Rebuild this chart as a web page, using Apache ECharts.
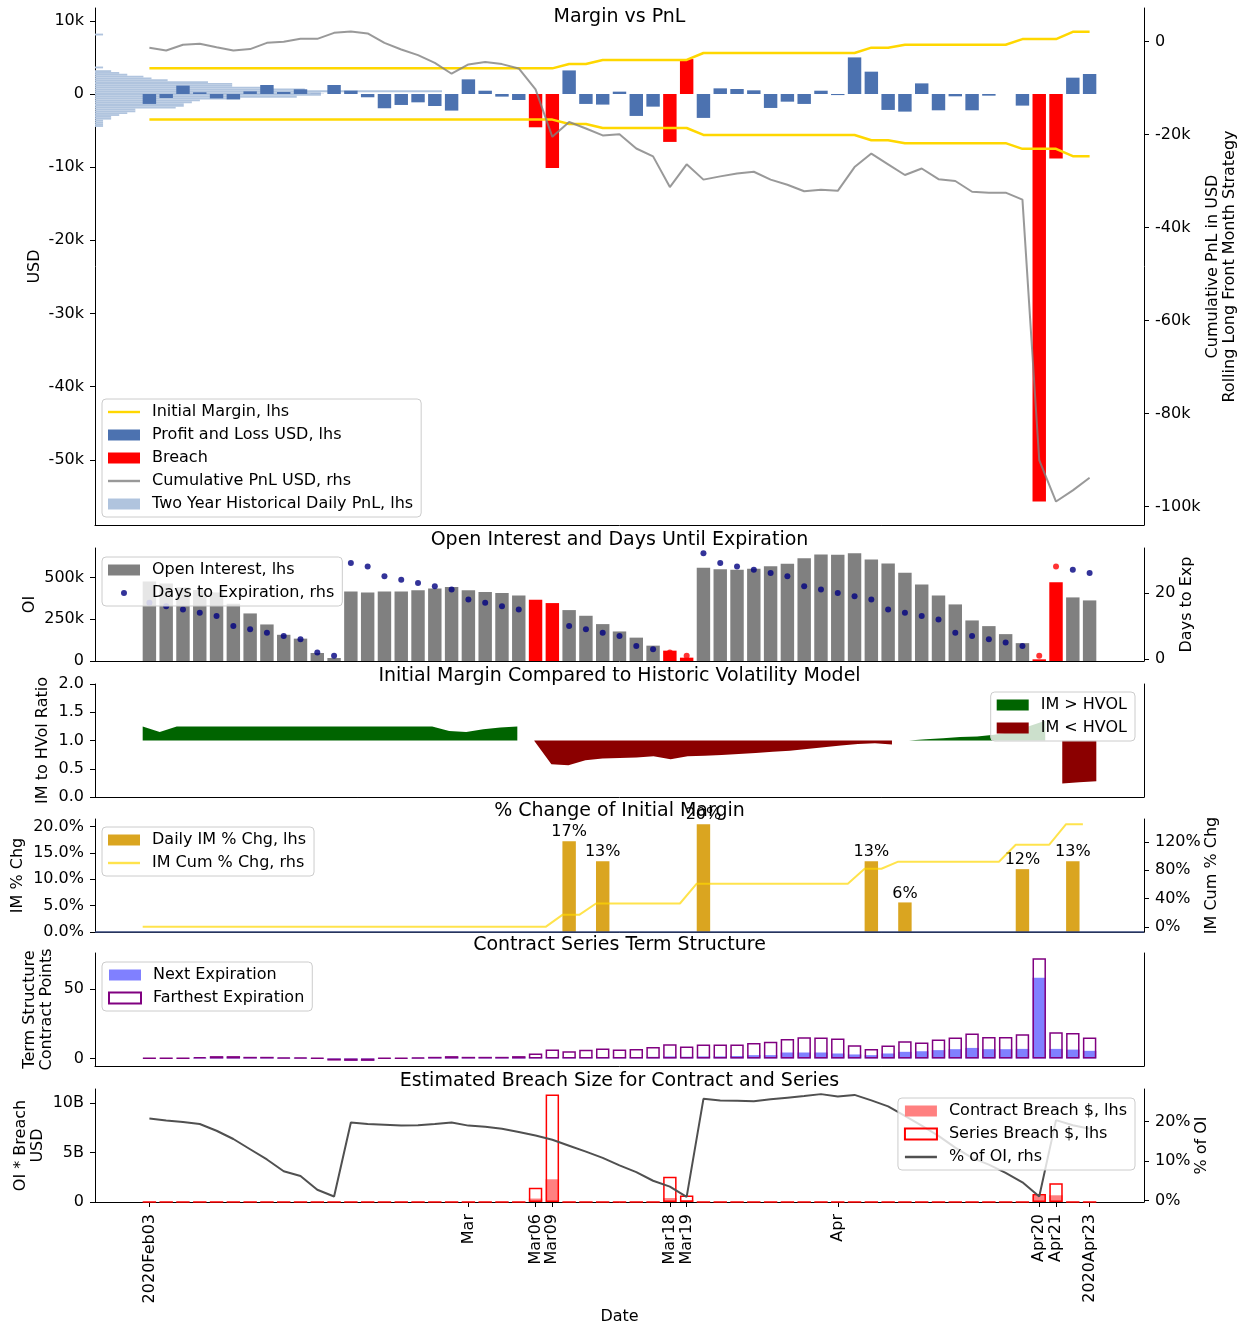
<!DOCTYPE html>
<html>
<head>
<meta charset="utf-8">
<script src="https://cdn.jsdelivr.net/npm/echarts@6/dist/echarts.min.js"></script>
<style>
  html, body { margin: 0; padding: 0; background: #ffffff; }
  #chart { width: 1246px; height: 1324px; }
</style>
</head>
<body>
<div id="chart"></div>
<script>
// Trading days shown on the shared date axis
const days = [
  '2020-02-03','2020-02-04','2020-02-05','2020-02-06','2020-02-07',
  '2020-02-10','2020-02-11','2020-02-12','2020-02-13','2020-02-14',
  '2020-02-18','2020-02-19','2020-02-20','2020-02-21',
  '2020-02-24','2020-02-25','2020-02-26','2020-02-27','2020-02-28',
  '2020-03-02','2020-03-03','2020-03-04','2020-03-05','2020-03-06',
  '2020-03-09','2020-03-10','2020-03-11','2020-03-12','2020-03-13',
  '2020-03-16','2020-03-17','2020-03-18','2020-03-19','2020-03-20',
  '2020-03-23','2020-03-24','2020-03-25','2020-03-26','2020-03-27',
  '2020-03-30','2020-03-31','2020-04-01','2020-04-02','2020-04-03',
  '2020-04-06','2020-04-07','2020-04-08','2020-04-09',
  '2020-04-13','2020-04-14','2020-04-15','2020-04-16','2020-04-17',
  '2020-04-20','2020-04-21','2020-04-22','2020-04-23'
];
const tickIdx = [0, 19, 23, 24, 31, 32, 41, 53, 54, 56];
const tickLabels = ['2020Feb03', 'Mar', 'Mar06', 'Mar09', 'Mar18', 'Mar19', 'Apr', 'Apr20', 'Apr21', '2020Apr23'];
const breachIdx = [23, 24, 31, 32, 53, 54];

// Margin vs PnL (thousands of USD)
const pnl = [
  -1.36, -0.55, 1.14, 0.23, -0.60, -0.73, 0.36, 1.23, 0.27, 0.64,
  0.02, 1.23, 0.45, -0.45, -1.95, -1.50, -1.14, -1.64, -2.27, 2.00,
  0.45, -0.36, -0.82, -4.55, -10.1, 3.22, -1.36, -1.45, 0.32, -3.00,
  -1.73, -6.55, 4.77, -3.27, 0.77, 0.68, 0.50, -1.91, -1.05, -1.36,
  0.45, -0.15, 5.00, 3.05, -2.18, -2.41, 1.45, -2.23, -0.32, -2.23,
  -0.23, 0.00, -1.59, -55.7, -8.82, 2.23, 2.73
];
const initialMargin = [
  3.5, 3.5, 3.5, 3.5, 3.5, 3.5, 3.5, 3.5, 3.5, 3.5,
  3.5, 3.5, 3.5, 3.5, 3.5, 3.5, 3.5, 3.5, 3.5, 3.5,
  3.5, 3.5, 3.5, 3.5, 3.5, 4.1, 4.1, 4.65, 4.65, 4.65,
  4.65, 4.65, 4.65, 5.6, 5.6, 5.6, 5.6, 5.6, 5.6, 5.6,
  5.6, 5.6, 5.6, 6.33, 6.33, 6.72, 6.72, 6.72, 6.72, 6.72,
  6.72, 6.72, 7.5, 7.5, 7.5, 8.5, 8.5
];
const cumPnl = [
  -1.36, -1.93, -0.71, -0.50, -1.22, -1.93, -1.64, -0.29, -0.07, 0.57,
  0.57, 1.86, 2.15, 1.72, -0.29, -1.72, -2.93, -4.58, -6.93, -4.94,
  -4.43, -4.86, -5.79, -10.3, -20.5, -17.3, -18.7, -20.2, -19.96, -23.0,
  -24.7, -31.3, -26.4, -29.7, -29.0, -28.4, -28.0, -29.7, -30.8, -32.2,
  -31.9, -32.1, -27.0, -24.1, -26.4, -28.7, -27.3, -29.6, -30.0, -32.3,
  -32.5, -32.5, -34.0, -90.0, -98.9, -96.5, -93.8
];
// Two year history of daily PnL: bin centres (k USD) and day counts
const histBinWidth = 0.25;
const histBins = [
  8.125, 3.625, 3.125, 2.875, 2.625, 2.375, 2.125, 1.875, 1.625, 1.375,
  1.125, 0.875, 0.625, 0.375, 0.125, -0.125, -0.375, -0.625, -0.875, -1.125,
  -1.375, -1.625, -1.875, -2.125, -2.375, -2.625, -2.875, -3.125, -3.375, -3.625,
  -3.875, -4.125, -4.375
];
const histCounts = [
  1, 1, 2, 3, 4, 6, 7, 9, 14, 17,
  17, 21, 26, 43, 28, 28, 25, 18, 13, 12,
  11, 11, 10, 5, 5, 4, 3, 2, 2, 1,
  1, 1, 1
];

// Open interest (thousands of contracts) and days to expiration
const openInterest = [
  477, 464, 440, 425, 410, 343, 285, 219, 157, 134,
  48, 18, 417, 411, 416, 417, 424, 434, 444, 424,
  414, 408, 393, 367, 347, 305, 271, 221, 177, 140,
  92, 62, 20, 558, 550, 546, 552, 568, 582, 616,
  638, 637, 645, 608, 584, 528, 458, 392, 339, 243,
  209, 161, 107, 10, 472, 381, 363
];
const daysToExp = [
  17, 16, 15, 14, 13, 10, 9, 8, 7, 6,
  2, 1, 29, 28, 25, 24, 23, 22, 21, 18,
  17, 16, 15, 14, 11, 10, 9, 8, 7, 4,
  3, 2, 1, 32, 29, 28, 27, 26, 25, 22,
  21, 20, 19, 18, 15, 14, 13, 12, 8, 7,
  6, 5, 4, 1, 28, 27, 26
];

// Initial margin / historic volatility model ratio, one value per trading day
const hvolRatio = [
  1.25, 1.15, 1.25, 1.25, 1.25, 1.25, 1.25, 1.25, 1.25, 1.25,
  1.25, 1.25, 1.25, 1.25, 1.25, 1.25, 1.25, 1.25, 1.17, 1.15,
  1.20, 1.23, 1.25, 0.99, 0.58, 0.56, 0.65, 0.68, 0.69, 0.70,
  0.72, 0.67, 0.72, 0.73, 0.745, 0.76, 0.78, 0.80, 0.82, 0.85,
  0.88, 0.91, 0.94, 0.95, 0.93, 1.002, 1.02, 1.04, 1.06, 1.07,
  1.10, 1.15, 1.25, 1.35, 0.24, 0.26, 0.28
];

// Initial margin changes (percent)
const imDailyChg = [
  0, 0, 0, 0, 0, 0, 0, 0, 0, 0,
  0, 0, 0, 0, 0, 0, 0, 0, 0, 0,
  0, 0, 0, 0, 0, 17.2, 0, 13.4, 0, 0,
  0, 0, 0, 20.4, 0, 0, 0, 0, 0, 0,
  0, 0, 0, 13.4, 0, 5.6, 0, 0, 0, 0,
  0, 0, 11.9, 0, 0, 13.4, 0
];
const imCumChg = [
  0, 0, 0, 0, 0, 0, 0, 0, 0, 0,
  0, 0, 0, 0, 0, 0, 0, 0, 0, 0,
  0, 0, 0, 0, 0, 17, 17, 33, 33, 33,
  33, 33, 33, 61, 61, 61, 61, 61, 61, 61,
  61, 61, 61, 82, 82, 92, 92, 92, 92, 92,
  92, 92, 116, 116, 116, 145, 145
];

// Contract series term structure (contract points)
const nextExp = [
  0.2, 0.2, 0.2, 0.5, 1.0, 1.0, 0.8, 0.8, 0.5, 0.5,
  0.3, -1.0, -1.5, -1.5, 0.3, 0.3, 0.5, 0.8, 1.0, 0.8,
  0.8, 0.8, 1.0, 1.0, 1.0, 1.0, 1.0, 1.0, 1.0, 1.0,
  1.2, 1.5, 1.3, 1.5, 1.5, 1.8, 2.4, 2.4, 4.3, 4.3,
  4.3, 3.6, 2.9, 2.4, 3.6, 4.8, 5.2, 6.0, 6.7, 7.6,
  6.7, 6.7, 6.9, 58.0, 6.9, 6.4, 5.5
];
const farthestExp = [
  0.3, 0.3, 0.3, 1.0, 1.7, 1.7, 1.2, 1.2, 0.7, 0.7,
  0.5, -1.5, -1.7, -1.7, 0.5, 0.5, 0.7, 1.2, 1.7, 1.2,
  1.2, 1.2, 1.7, 3.6, 6.4, 5.2, 6.2, 7.1, 6.4, 6.9,
  8.3, 10.2, 8.6, 10.0, 10.0, 10.0, 11.2, 12.1, 14.0, 15.2,
  15.0, 14.3, 9.5, 6.9, 9.3, 12.4, 11.4, 13.6, 15.0, 17.9,
  15.5, 15.5, 17.4, 72.1, 18.8, 18.3, 15.0
];

// Estimated breach size (billions of USD) and percent of open interest
const contractBreach = [
  0, 0, 0, 0, 0, 0, 0, 0, 0, 0,
  0, 0, 0, 0, 0, 0, 0, 0, 0, 0,
  0, 0, 0, 0.35, 2.3, 0, 0, 0, 0, 0,
  0, 0.4, 0.2, 0, 0, 0, 0, 0, 0, 0,
  0, 0, 0, 0, 0, 0, 0, 0, 0, 0,
  0, 0, 0, 0.68, 0.68, 0, 0
];
const seriesBreach = [
  0, 0, 0, 0, 0, 0, 0, 0, 0, 0,
  0, 0, 0, 0, 0, 0, 0, 0, 0, 0,
  0, 0, 0, 1.45, 10.9, 0, 0, 0, 0, 0,
  0, 2.55, 0.65, 0, 0, 0, 0, 0, 0, 0,
  0, 0, 0, 0, 0, 0, 0, 0, 0, 0,
  0, 0, 0, 0.8, 1.9, 0, 0
];
const pctOfOI = [
  20.8, 20.3, 19.9, 19.4, 17.7, 15.6, 13.0, 10.4, 7.4, 6.2,
  2.7, 1.0, 19.8, 19.4, 19.2, 19.0, 19.1, 19.4, 19.8, 19.0,
  18.7, 18.2, 17.4, 16.5, 15.4, 13.9, 12.4, 10.8, 8.9, 7.2,
  5.0, 3.5, 0.9, 25.8, 25.4, 25.3, 25.2, 25.7, 26.1, 26.5,
  27.0, 26.4, 26.8, 25.4, 23.9, 21.5, 19.0, 16.4, 13.4, 10.8,
  9.1, 7.0, 4.6, 1.0, 20.4, 19.1, 18.2
];

// ---------------------------------------------------------------------------
const FONT = 'DejaVu Sans';
const X_MIN = -3.24, X_MAX = 59.24;   // bar-padded trading-day index range
const AREA_X_MIN = -2.8, AREA_X_MAX = 58.8; // volatility panel has no bars, so no bar padding
const LINE_SHIFT = 0.4;                // cumulative IM line sits on bar left edges
const GRID_LEFT = 95, GRID_WIDTH = 1049;
const panels = [
  { top: 8, height: 517 },
  { top: 548, height: 113 },
  { top: 684, height: 113 },
  { top: 819, height: 113 },
  { top: 953, height: 113 },
  { top: 1089, height: 113 }
];
const isBreach = i => breachIdx.indexOf(i) >= 0;
const pts = arr => arr.map((v, i) => [i, v]);

const axisLineStyle = { color: '#000000', width: 1 };
const tickFont = { fontFamily: FONT, fontSize: 16, color: '#000000' };
const nameFont = { fontFamily: FONT, fontSize: 16, color: '#000000', lineHeight: 17 };

function xAxisFor(gi, withLabels, opts) {
  const o = opts || {};
  return {
    type: 'value', gridIndex: gi,
    min: o.min != null ? o.min : X_MIN, max: o.max != null ? o.max : X_MAX,
    show: !o.hidden,
    axisLine: { show: true, onZero: false, lineStyle: axisLineStyle },
    axisTick: { show: withLabels, customValues: tickIdx, length: 5, lineStyle: axisLineStyle },
    axisLabel: {
      show: withLabels, customValues: tickIdx, rotate: 90, margin: 12, ...tickFont,
      formatter: v => { const k = tickIdx.indexOf(Math.round(v)); return k >= 0 ? tickLabels[k] : ''; }
    },
    splitLine: { show: false },
    name: withLabels ? 'Date' : '', nameLocation: 'middle', nameGap: 106, nameMoveOverlap: false,
    nameTextStyle: nameFont
  };
}
function yAxisFor(gi, pos, min, max, ticks, fmt, name, gap) {
  const showTicks = ticks && ticks.length > 0;
  return {
    type: 'value', gridIndex: gi, position: pos, min: min, max: max,
    axisLine: { show: true, onZero: false, lineStyle: axisLineStyle },
    axisTick: { show: showTicks, customValues: ticks || [], length: 5, lineStyle: axisLineStyle },
    axisLabel: { show: showTicks, customValues: ticks || [], margin: 11, formatter: fmt, ...tickFont },
    splitLine: { show: false },
    name: name || '', nameLocation: 'middle', nameRotate: 90, nameGap: gap || 0,
    nameMoveOverlap: false,
    nameTextStyle: nameFont
  };
}
function legendBox(extra) {
  return Object.assign({
    orient: 'vertical', itemWidth: 32, itemHeight: 11, itemGap: 5,
    padding: [4, 8, 4, 6],
    backgroundColor: 'rgba(255,255,255,0.8)', borderColor: '#cccccc', borderWidth: 1, borderRadius: 4,
    textStyle: { fontFamily: FONT, fontSize: 16, color: '#000000', lineHeight: 18, padding: [0, 0, 0, 7] },
    selectedMode: false, z: 20
  }, extra);
}
const LINE_ICON = 'path://M0,0H32V2.4H0Z';
const DOT_ICON = 'path://M0,0L0.01,0M32,11L32.01,11M13,5.5A3,3 0 1,0 19,5.5A3,3 0 1,0 13,5.5Z';

const kFmt = v => (v === 0 ? '0' : v + 'k');

const option = {
  animation: false,
  backgroundColor: '#ffffff',
  textStyle: { fontFamily: FONT },
  title: [
    'Margin vs PnL',
    'Open Interest and Days Until Expiration',
    'Initial Margin Compared to Historic Volatility Model',
    '% Change of Initial Margin',
    'Contract Series Term Structure',
    'Estimated Breach Size for Contract and Series'
  ].map((t, k) => ({
    text: t, left: GRID_LEFT + GRID_WIDTH / 2, textAlign: 'center',
    top: [8, 531, 667, 802, 936, 1072][k], padding: 0,
    textStyle: { fontFamily: FONT, fontSize: 19, fontWeight: 'normal', color: '#000000' }
  })),
  grid: panels.map(p => ({
    left: GRID_LEFT, width: GRID_WIDTH, top: p.top, height: p.height,
    containLabel: false, outerBoundsMode: 'none'
  })),
  xAxis: [
    xAxisFor(0, false), xAxisFor(1, false),
    xAxisFor(2, false, { min: AREA_X_MIN, max: AREA_X_MAX }),
    xAxisFor(3, false), xAxisFor(4, false), xAxisFor(5, true),
    // 6: day counts for the historical PnL histogram
    { type: 'value', gridIndex: 0, min: 0, max: 130, show: false },
    // 7: cumulative IM change line, drawn on bar left edges
    xAxisFor(3, false, { min: X_MIN + LINE_SHIFT, max: X_MAX + LINE_SHIFT, hidden: true })
  ],
  yAxis: [
    yAxisFor(0, 'left', -58.9, 11.75, [-50, -40, -30, -20, -10, 0, 10], kFmt, 'USD', 51.5),
    yAxisFor(0, 'right', -103.95, 7.2, [-100, -80, -60, -40, -20, 0], kFmt,
      'Cumulative PnL in USD\nRolling Long Front Month Strategy', 60),
    yAxisFor(1, 'left', 0, 677, [0, 250, 500], kFmt, 'OI', 56.5),
    yAxisFor(1, 'right', -0.55, 33.55, [0, 20], v => String(v), 'Days to Exp', 34.5),
    yAxisFor(2, 'left', 0, 2, [0, 0.5, 1, 1.5, 2], v => v.toFixed(1), 'IM to HVol Ratio', 43.5),
    yAxisFor(2, 'right', 0, 2, [], null, '', 0),
    yAxisFor(3, 'left', 0, 21.4, [0, 5, 10, 15, 20], v => v.toFixed(1) + '%', 'IM % Chg', 68.5),
    yAxisFor(3, 'right', -7.25, 152.25, [0, 40, 80, 120], v => v + '%', 'IM Cum % Chg', 59.5),
    yAxisFor(4, 'left', -5.4, 75.8, [0, 50], v => String(v), 'Term Structure\nContract Points', 39.5),
    yAxisFor(4, 'right', 0, 1, [], null, '', 0),
    yAxisFor(5, 'left', 0, 11.45, [0, 5, 10], v => (v === 0 ? '0' : v + 'B'), 'OI * Breach\nUSD', 49),
    yAxisFor(5, 'right', -0.4, 28.3, [0, 10, 20], v => v + '%', '% of OI', 49.5)
  ],
  legend: [
    legendBox({ left: 102, top: 399, data: [
      { name: 'Initial Margin, lhs', icon: LINE_ICON },
      { name: 'Profit and Loss USD, lhs', icon: 'rect' },
      { name: 'Breach', icon: 'rect' },
      { name: 'Cumulative PnL USD, rhs', icon: LINE_ICON },
      { name: 'Two Year Historical Daily PnL, lhs', icon: 'rect' }
    ] }),
    legendBox({ left: 102, top: 557, data: [
      { name: 'Open Interest, lhs', icon: 'rect' },
      { name: 'Days to Expiration, rhs', icon: DOT_ICON }
    ] }),
    legendBox({ right: 111, top: 692, data: [
      { name: 'IM > HVOL', icon: 'rect' },
      { name: 'IM < HVOL', icon: 'rect' }
    ] }),
    legendBox({ left: 102, top: 827, data: [
      { name: 'Daily IM % Chg, lhs', icon: 'rect' },
      { name: 'IM Cum % Chg, rhs', icon: LINE_ICON }
    ] }),
    legendBox({ left: 102, top: 962, data: [
      { name: 'Next Expiration', icon: 'rect' },
      { name: 'Farthest Expiration', icon: 'rect' }
    ] }),
    legendBox({ right: 111, top: 1098, data: [
      { name: 'Contract Breach $, lhs', icon: 'rect' },
      { name: 'Series Breach $, lhs', icon: 'rect' },
      { name: '% of OI, rhs', icon: LINE_ICON }
    ] })
  ],
  series: [
    // ---- Panel 1: Margin vs PnL
    {
      name: 'Two Year Historical Daily PnL, lhs', type: 'custom',
      xAxisIndex: 6, yAxisIndex: 0, z: 1,
      itemStyle: { color: '#B0C4DE' },
      encode: { x: 0, y: 1 },
      data: histBins.map((c, i) => [histCounts[i], c]),
      renderItem: (params, api) => {
        const n = api.value(0), c = api.value(1);
        const a = api.coord([0, c + histBinWidth / 2]);
        const b = api.coord([n, c - histBinWidth / 2]);
        return { type: 'rect', shape: { x: a[0], y: a[1], width: b[0] - a[0], height: b[1] - a[1] },
          style: { fill: '#B0C4DE' } };
      }
    },
    {
      name: 'Profit and Loss USD, lhs', type: 'bar', xAxisIndex: 0, yAxisIndex: 0,
      barWidth: '80%', barGap: '-100%', z: 2,
      itemStyle: { color: '#4C72B0' },
      data: pnl.map((v, i) => [i, isBreach(i) ? '-' : v])
    },
    {
      name: 'Breach', type: 'bar', xAxisIndex: 0, yAxisIndex: 0,
      barWidth: '80%', barGap: '-100%', z: 2,
      itemStyle: { color: '#FF0000' },
      data: pnl.map((v, i) => [i, isBreach(i) ? v : '-'])
    },
    {
      name: 'Initial Margin, lhs', type: 'line', xAxisIndex: 0, yAxisIndex: 0, z: 4,
      symbol: 'none', lineStyle: { color: '#FFD700', width: 2.5 }, itemStyle: { color: '#FFD700' },
      data: pts(initialMargin)
    },
    {
      name: 'Initial Margin, lhs', type: 'line', xAxisIndex: 0, yAxisIndex: 0, z: 4,
      symbol: 'none', lineStyle: { color: '#FFD700', width: 2.5 }, itemStyle: { color: '#FFD700' },
      data: initialMargin.map((v, i) => [i, -v])
    },
    {
      name: 'Cumulative PnL USD, rhs', type: 'line', xAxisIndex: 0, yAxisIndex: 1, z: 5,
      symbol: 'none', lineStyle: { color: 'rgba(128,128,128,0.8)', width: 2 },
      itemStyle: { color: 'rgba(128,128,128,0.8)' },
      data: pts(cumPnl)
    },
    // ---- Panel 2: open interest and days to expiration
    {
      name: 'Open Interest, lhs', type: 'bar', xAxisIndex: 1, yAxisIndex: 2, barWidth: '80%',
      itemStyle: { color: '#808080' },
      data: openInterest.map((v, i) => ({ value: [i, v], itemStyle: { color: isBreach(i) ? '#FF0000' : '#808080' } }))
    },
    {
      name: 'Days to Expiration, rhs', type: 'scatter', xAxisIndex: 1, yAxisIndex: 3, symbolSize: 6, z: 3,
      itemStyle: { color: '#000080' },
      data: daysToExp.map((v, i) => ({ value: [i, v], itemStyle: { color: isBreach(i) ? '#FF0000' : '#000080' } }))
    },
    // ---- Panel 3: IM vs historic volatility model
    {
      name: 'IM > HVOL', type: 'line', xAxisIndex: 2, yAxisIndex: 4, symbol: 'none',
      lineStyle: { width: 0, color: '#006400' }, itemStyle: { color: '#006400' },
      areaStyle: { color: '#006400', opacity: 1, origin: 1 },
      data: hvolRatio.map((v, i) => [i, v > 1 ? v : '-'])
    },
    {
      name: 'IM < HVOL', type: 'line', xAxisIndex: 2, yAxisIndex: 4, symbol: 'none',
      lineStyle: { width: 0, color: '#8B0000' }, itemStyle: { color: '#8B0000' },
      areaStyle: { color: '#8B0000', opacity: 1, origin: 1 },
      data: hvolRatio.map((v, i) => [i, v < 1 ? v : '-'])
    },
    // ---- Panel 4: % change of initial margin
    {
      name: 'Daily IM % Chg, lhs', type: 'bar', xAxisIndex: 3, yAxisIndex: 6, barWidth: '80%',
      itemStyle: { color: '#DAA520' },
      label: {
        show: true, position: 'top', distance: 1, ...tickFont,
        formatter: p => (p.value[1] ? Math.round(p.value[1]) + '%' : '')
      },
      markLine: {
        silent: true, symbol: 'none', label: { show: false },
        lineStyle: { color: '#34467a', width: 1.5, type: 'solid' },
        data: [{ yAxis: 0 }]
      },
      data: pts(imDailyChg)
    },
    {
      name: 'IM Cum % Chg, rhs', type: 'line', xAxisIndex: 7, yAxisIndex: 7, symbol: 'none', z: 3,
      lineStyle: { color: 'rgba(255,215,0,0.7)', width: 2 }, itemStyle: { color: 'rgba(255,215,0,0.7)' },
      data: pts(imCumChg)
    },
    // ---- Panel 5: term structure
    {
      name: 'Next Expiration', type: 'bar', xAxisIndex: 4, yAxisIndex: 8, barWidth: '80%', barGap: '-100%',
      itemStyle: { color: '#8080FF' },
      data: pts(nextExp)
    },
    {
      name: 'Farthest Expiration', type: 'bar', xAxisIndex: 4, yAxisIndex: 8, barWidth: '80%', barGap: '-100%',
      itemStyle: { color: 'rgba(255,255,255,0)', borderColor: '#800080', borderWidth: 1.5 },
      data: pts(farthestExp)
    },
    // ---- Panel 6: estimated breach size
    {
      name: 'Contract Breach $, lhs', type: 'bar', xAxisIndex: 5, yAxisIndex: 10, barWidth: '80%', barGap: '-100%',
      itemStyle: { color: '#FF8080' },
      data: pts(contractBreach)
    },
    {
      name: 'Series Breach $, lhs', type: 'bar', xAxisIndex: 5, yAxisIndex: 10, barWidth: '80%', barGap: '-100%',
      itemStyle: { color: 'rgba(255,255,255,0)', borderColor: '#FF0000', borderWidth: 1.5 },
      data: pts(seriesBreach)
    },
    {
      name: '% of OI, rhs', type: 'line', xAxisIndex: 5, yAxisIndex: 11, symbol: 'none', z: 3,
      lineStyle: { color: '#505050', width: 2 }, itemStyle: { color: '#505050' },
      data: pts(pctOfOI)
    }
  ]
};

const chart = echarts.init(document.getElementById('chart'), null, { renderer: 'canvas' });
chart.setOption(option);
</script>
</body>
</html>
